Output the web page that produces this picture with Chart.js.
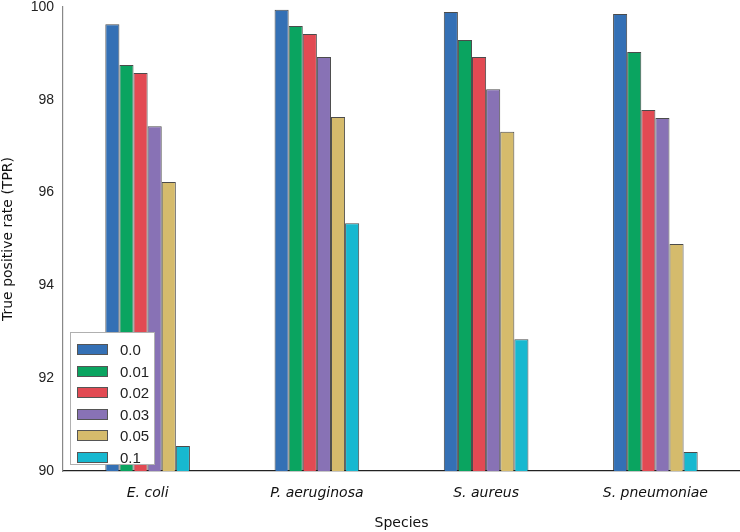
<!DOCTYPE html>
<html>
<head>
<meta charset="utf-8">
<script src="https://cdn.jsdelivr.net/npm/chart.js@4.4.1/dist/chart.umd.min.js"></script>
<style>
  body { margin: 0; background: #fff; }
  #wrap { position: relative; width: 740px; height: 532px; }
  #legend {
    position: absolute; left: 70px; top: 332px; width: 85px; height: 133px;
    border: 1px solid #b0b0b0; background: #fff;
    font-family: "Liberation Sans", Arial, sans-serif; font-size: 15px; color: #222;
    padding-top: 6px; box-sizing: border-box;
  }
  .item { height: 21.5px; display: flex; align-items: center; }
  .swatch { width: 31px; height: 11px; margin-left: 6px; margin-right: 12px; border: 1px solid #555; box-sizing: border-box; }
</style>
</head>
<body>
<div id="wrap">
  <canvas id="chart" width="740" height="532"></canvas>
  <div id="legend"></div>
</div>
<script>
const species = ['E. coli', 'P. aeruginosa', 'S. aureus', 'S. pneumoniae'];
const rates = ['0.0', '0.01', '0.02', '0.03', '0.05', '0.1'];
const colors = ['#3470b5', '#0aa460', '#e24a53', '#8872b5', '#d5bb6c', '#17b8d0'];

// TPR per rate, one value per species
const tpr00  = [99.63, 99.94, 99.89, 99.85];
const tpr01  = [98.75, 99.59, 99.29, 99.03];
const tpr02  = [98.58, 99.42, 98.92, 97.78];
const tpr03  = [97.43, 98.92, 98.23, 97.61];
const tpr05  = [96.23, 97.63, 97.31, 94.89];
const tpr10  = [90.54, 95.34, 92.84, 90.41];
const series = [tpr00, tpr01, tpr02, tpr03, tpr05, tpr10];

const yTicks = [90, 92, 94, 96, 98, 100];

const datasets = series.map((vals, i) => ({
    label: rates[i],
    data: vals,
    backgroundColor: colors[i],
    borderColor: 'rgba(30,30,30,0.8)',
    borderWidth: 1,
    borderSkipped: 'bottom',
    categoryPercentage: 0.5,
    barPercentage: 1.0
}));

new Chart(document.getElementById('chart'), {
    type: 'bar',
    data: { labels: species, datasets: datasets },
    options: {
        responsive: false,
        animation: false,
        layout: { padding: { top: 7, right: 0, left: 0, bottom: 0 } },
        plugins: { legend: { display: false }, tooltip: { enabled: false } },
        scales: {
            x: {
                grid: { display: false, drawTicks: false },
                border: { color: '#222', width: 1.2 },
                ticks: {
                    padding: 14,
                    color: '#111',
                    font: { family: 'DejaVu Sans', size: 14, style: 'italic' }
                },
                title: {
                    display: true, text: 'Species', color: '#111',
                    font: { family: 'DejaVu Sans', size: 14 },
                    padding: { top: 6, bottom: 0 }
                },
                afterFit: s => { s.height = 61; s.paddingLeft = 0; s.paddingRight = 0; }
            },
            y: {
                min: 90, max: 100,
                grid: { display: false, drawTicks: false },
                border: { color: '#888', width: 1.2 },
                afterBuildTicks: s => { s.ticks = yTicks.map(v => ({ value: v })); },
                ticks: {
                    padding: 9,
                    color: '#222',
                    font: { family: 'Liberation Sans', size: 14 }
                },
                title: {
                    display: true, text: 'True positive rate (TPR)', color: '#111',
                    font: { family: 'DejaVu Sans', size: 14 },
                    padding: { top: 0, bottom: 3 }
                },
                afterFit: s => { s.width = 63; s.paddingTop = 0; s.paddingBottom = 0; }
            }
        }
    }
});

// legend inside the plot, lower left
const legend = document.getElementById('legend');
rates.forEach((r, i) => {
    const row = document.createElement('div');
    row.className = 'item';
    const sw = document.createElement('span');
    sw.className = 'swatch';
    sw.style.background = colors[i];
    const txt = document.createElement('span');
    txt.textContent = r;
    row.appendChild(sw);
    row.appendChild(txt);
    legend.appendChild(row);
});
</script>
</body>
</html>
